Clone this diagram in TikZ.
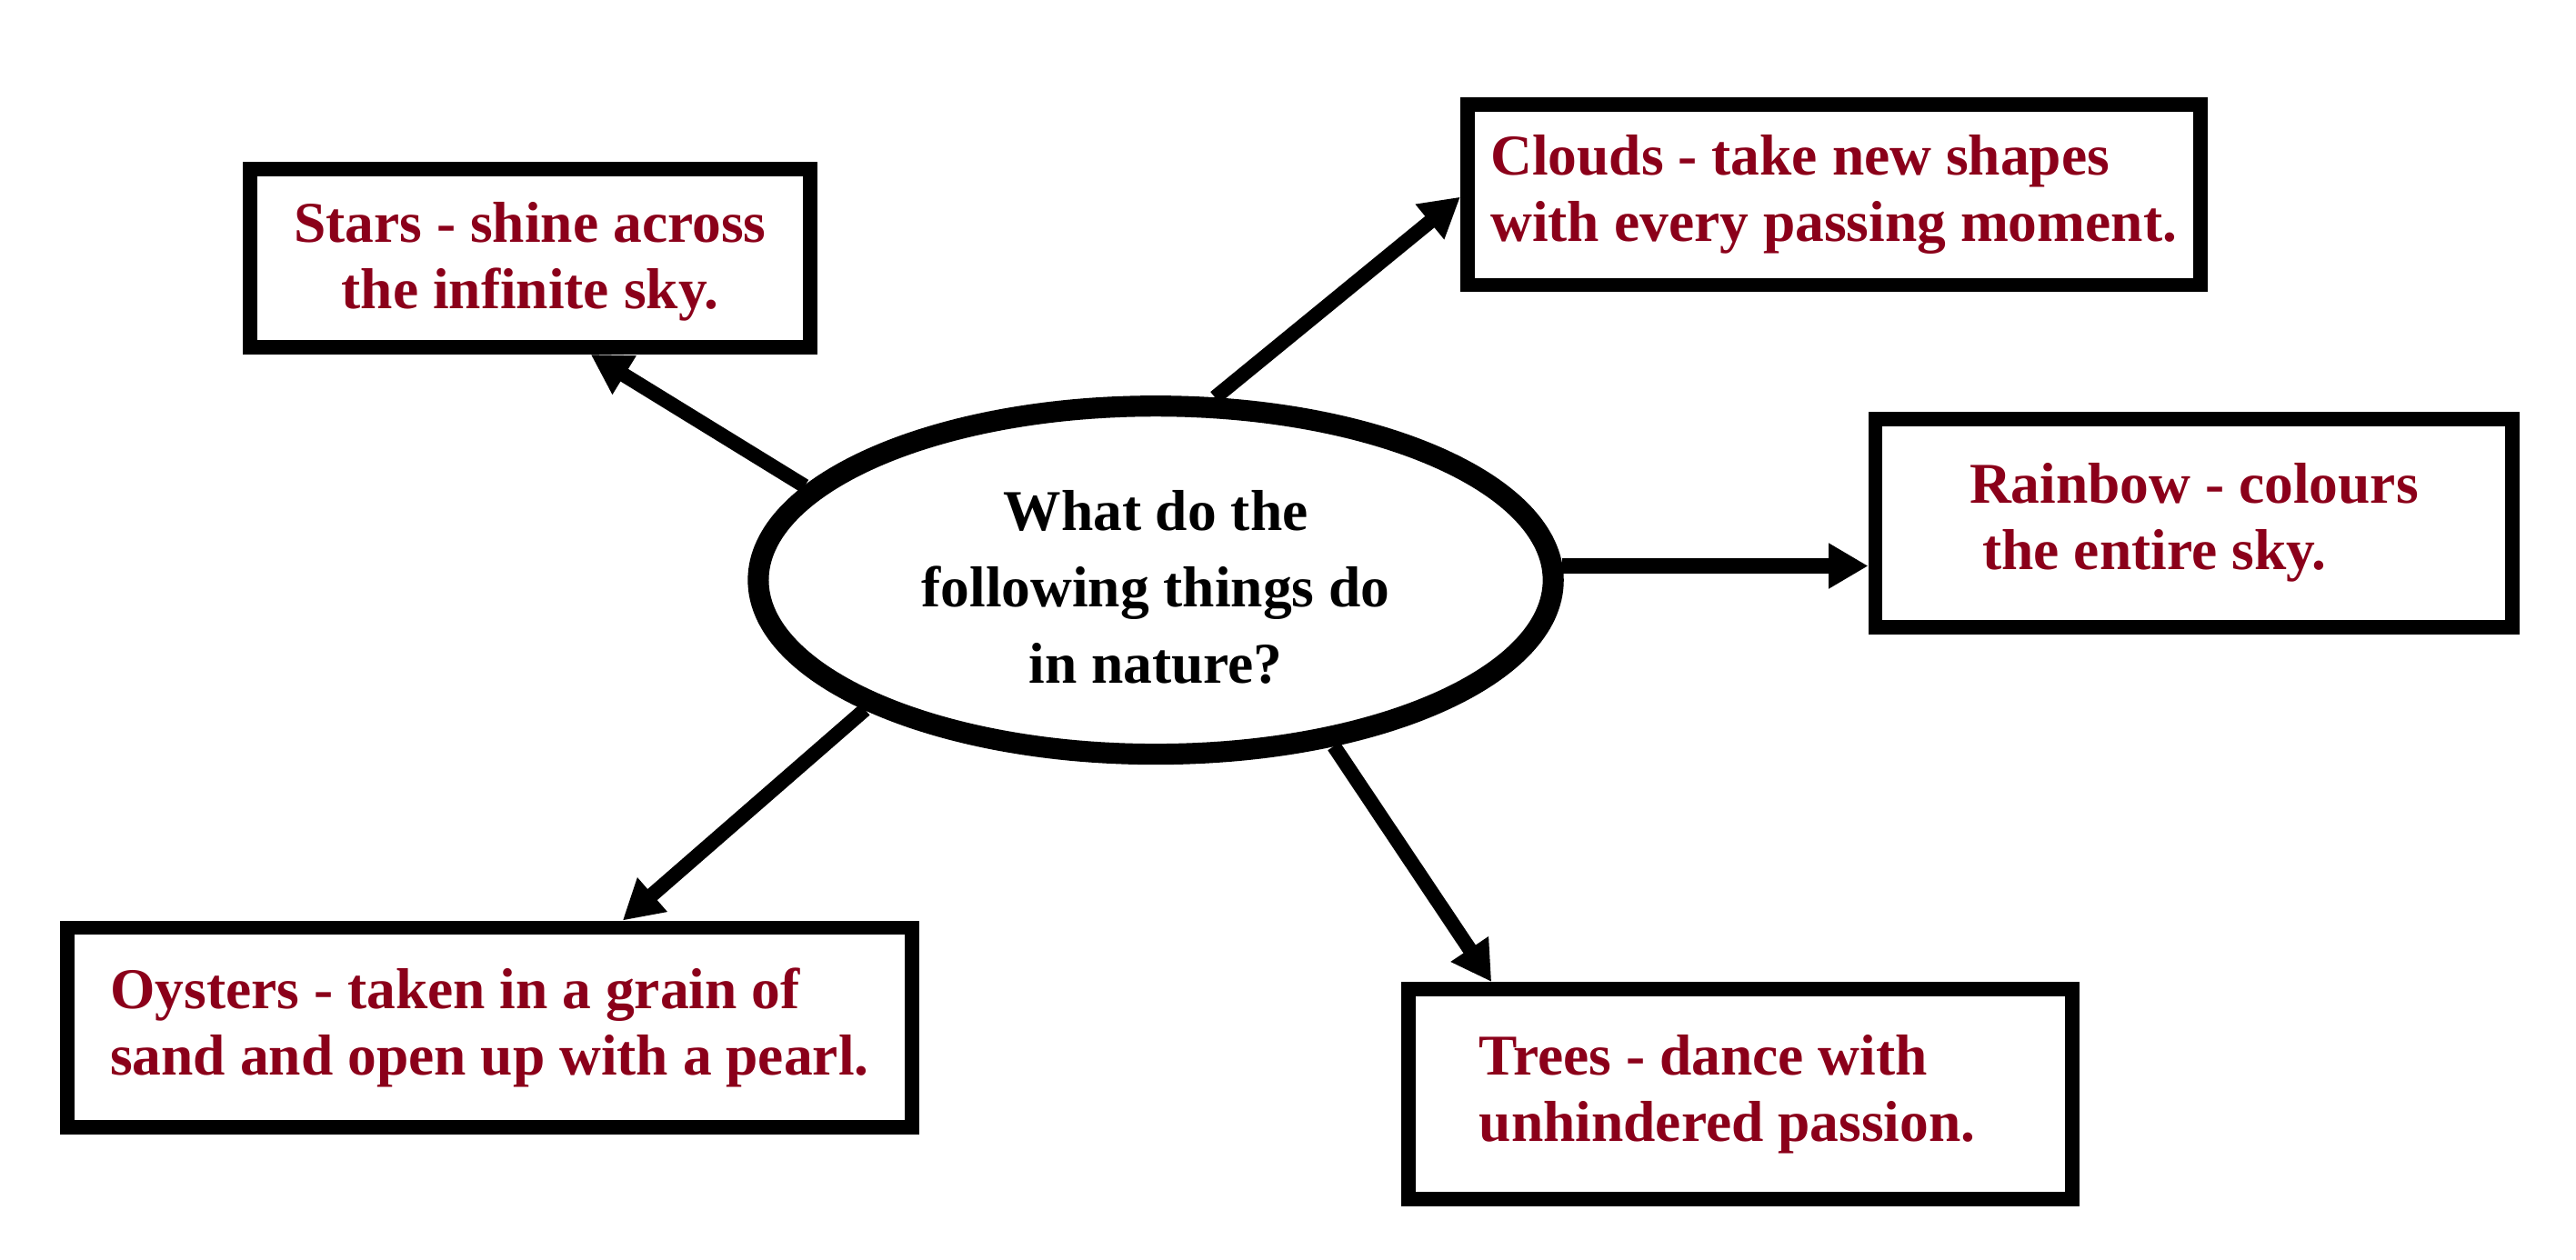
\documentclass[tikz,border=0pt]{standalone}
\usepackage{fontspec}
\setmainfont{Liberation Serif}
\usetikzlibrary{arrows.meta,shapes.geometric,calc}
\definecolor{txtred}{RGB}{139,0,26}
\newcommand{\dropstrut}{\rule{0pt}{\dimexpr0.72em+0.16cm\relax}}
\begin{document}
\begin{tikzpicture}[x=0.02cm,y=-0.02cm,
  box/.style={draw=black,line width=0.176cm,rectangle,align=left,text=txtred,
    font=\bfseries\fontsize{20}{23}\selectfont,inner sep=0pt},
  hub/.style={ellipse,draw=black,line width=0.256cm,align=center,text=black,
    font=\bfseries\fontsize{20}{26.5}\selectfont,inner sep=0pt},
  arr/.style={draw=black,line width=0.178cm,-{Triangle[length=0.48cm,width=0.52cm]}}]
\useasboundingbox[fill=white] (0,0) rectangle (1568,767);

\node[hub,minimum width=9.68cm,minimum height=4.24cm] (ell) at (703.5,353.2)
  {\dropstrut What do the\\following things do\\in nature?};

\node[box,minimum width=6.818cm,minimum height=2.166cm] (stars) at (322.6,157.3)
  {\begin{tabular}{@{}c@{}}\dropstrut Stars - shine across\\the infinite sky.\end{tabular}};
\node[box,minimum width=8.92cm,minimum height=2.2cm] (clouds) at (1116.2,118.5)
  {Clouds - take new shapes\\with every passing moment.};
\node[box,minimum width=7.76cm,minimum height=2.54cm] (rainbow) at (1335.5,318.4)
  {Rainbow - colours\\\hspace*{0.16cm}the entire sky.};
\node[box,minimum width=10.28cm,minimum height=2.432cm] (oysters) at (298,625.6)
  {Oysters - taken in a grain of\\sand and open up with a pearl.};
\node[box,minimum width=8.088cm,minimum height=2.554cm] (trees) at (1059.4,666)
  {Trees - dance with\\unhindered passion.\hspace*{0.32cm}};

\draw[arr] (ell.165.7) -- ($(stars.south)+(37,0)$);
\draw[arr] (ell.72.4) -- ($(clouds.west)+(0,1.4)$);
\draw[arr] (ell.2.6) -- (ell.2.6 -| rainbow.west);
\draw[arr] (ell.204.9) -- ($(oysters.north)+(81,0)$);
\draw[arr] (ell.-43.4) -- ($(trees.north west)+(55,0)$);
\end{tikzpicture}
\end{document}
